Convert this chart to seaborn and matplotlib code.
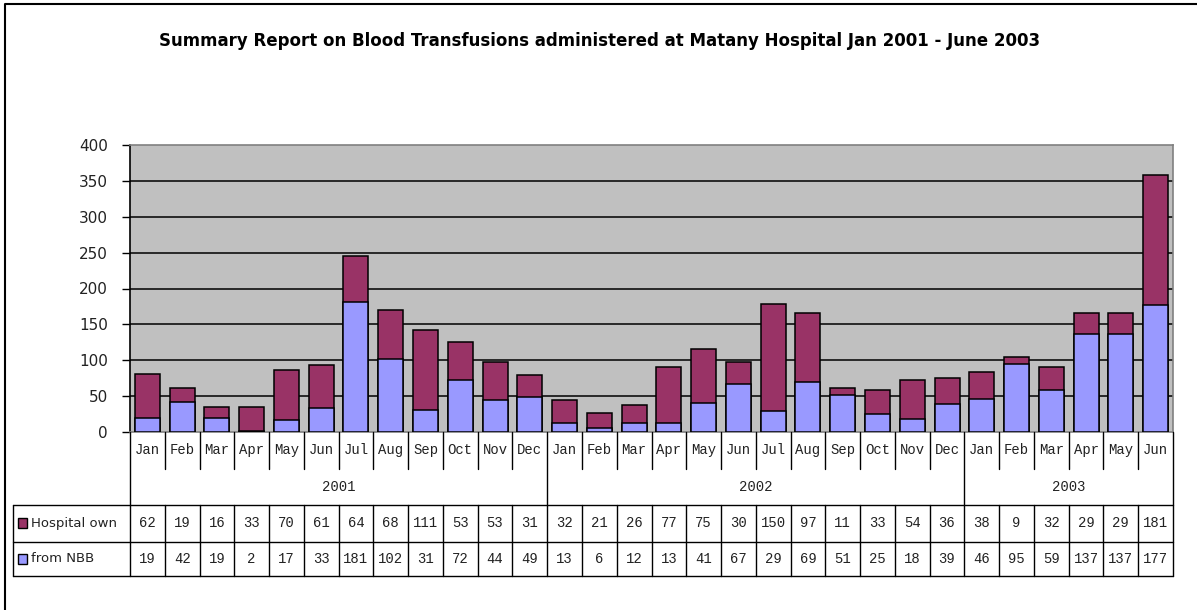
import matplotlib
matplotlib.use("Agg")
import matplotlib.pyplot as plt
import seaborn as sns
import numpy as np
import pandas as pd
from matplotlib.patches import Rectangle
from matplotlib.lines import Line2D

months = ["Jan", "Feb", "Mar", "Apr", "May", "Jun", "Jul", "Aug", "Sep", "Oct", "Nov", "Dec",
          "Jan", "Feb", "Mar", "Apr", "May", "Jun", "Jul", "Aug", "Sep", "Oct", "Nov", "Dec",
          "Jan", "Feb", "Mar", "Apr", "May", "Jun"]
years = ["2001"] * 12 + ["2002"] * 12 + ["2003"] * 6
hospital_own = [62, 19, 16, 33, 70, 61, 64, 68, 111, 53, 53, 31,
                32, 21, 26, 77, 75, 30, 150, 97, 11, 33, 54, 36,
                38, 9, 32, 29, 29, 181]
from_nbb = [19, 42, 19, 2, 17, 33, 181, 102, 31, 72, 44, 49,
            13, 6, 12, 13, 41, 67, 29, 69, 51, 25, 18, 39,
            46, 95, 59, 137, 137, 177]
series_names = ["Hospital own", "from NBB"]
title = "Summary Report on Blood Transfusions administered at Matany Hospital Jan 2001 - June 2003"
yticks = [0, 50, 100, 150, 200, 250, 300, 350, 400]

col_own = "#993366"
col_nbb = "#9999FF"

sns.set_theme(style="white")
plt.rcParams["font.family"] = ["DejaVu Sans"]

W, H = 1197, 610
fig = plt.figure(figsize=(W / 100, H / 100), dpi=100)

L, R, T, B = 130, 1173, 145, 432
ax = fig.add_axes([L / W, 1 - B / H, (R - L) / W, (B - T) / H])

df = pd.DataFrame({
    "idx": np.arange(len(months)),
    "own": hospital_own,
    "nbb": from_nbb,
})
df["total"] = df["own"] + df["nbb"]

sns.barplot(data=df, x="idx", y="total", color=col_own, saturation=1, width=0.72,
            edgecolor="black", linewidth=1.1, ax=ax, native_scale=True, zorder=3)
sns.barplot(data=df, x="idx", y="nbb", color=col_nbb, saturation=1, width=0.72,
            edgecolor="black", linewidth=1.1, ax=ax, native_scale=True, zorder=4)

ax.set_xlim(-0.5, len(months) - 0.5)
ax.set_ylim(0, 400)
ax.set_facecolor("#C0C0C0")
ax.set_yticks(yticks)
ax.set_yticklabels([str(v) for v in yticks], fontsize=11, color="#222222",
                   family=["Liberation Sans Narrow", "DejaVu Sans"])
ax.set_xticks([])
ax.set_xlabel("")
ax.set_ylabel("")
for v in yticks[1:-1]:
    ax.axhline(v, color="black", linewidth=1.1, zorder=1)
ax.tick_params(axis="y", which="both", left=True, length=6, width=1, color="black", pad=10)
for s in ["top", "right", "bottom"]:
    ax.spines[s].set_color("#808080")
    ax.spines[s].set_linewidth(1.2)
ax.spines["left"].set_color("black")
ax.spines["left"].set_linewidth(1.2)

ov2 = fig.add_axes([0, 0, 1, 1], zorder=10)
ov2.set_xlim(0, W)
ov2.set_ylim(H, 0)
ov2.axis("off")
ov2.patch.set_alpha(0)

# figure frame
ov2.add_line(Line2D([5, 5, W + 5], [H + 5, 4, 4], color="black", linewidth=1.5))

ov2.text(600, 41, title, ha="center", va="center", fontsize=12, fontweight="bold", color="black")

n = len(months)
slot = (R - L) / n
ymon_b, yyear_b, yrow1_b, yrow2_b = 469, 505, 542, 576
lc = "black"
lw = 1.0
mono = ["Liberation Mono", "DejaVu Sans Mono"]

for i, m in enumerate(months):
    xc = L + (i + 0.5) * slot
    ov2.text(xc, 450, m, ha="center", va="center", fontsize=10, family=mono, color="#222222")
    ov2.text(xc, 523, str(hospital_own[i]), ha="center", va="center", fontsize=10, family=mono, color="#222222")
    ov2.text(xc, 559, str(from_nbb[i]), ha="center", va="center", fontsize=10, family=mono, color="#222222")

for i in range(n + 1):
    xb = L + i * slot
    year_edge = (i == 0) or (i == n) or (years[i] != years[i - 1])
    if year_edge:
        ov2.add_line(Line2D([xb, xb], [B, yrow2_b], color=lc, linewidth=lw))
    else:
        ov2.add_line(Line2D([xb, xb], [B, ymon_b], color=lc, linewidth=lw))
        ov2.add_line(Line2D([xb, xb], [yyear_b, yrow2_b], color=lc, linewidth=lw))

uniq = []
for y in years:
    if y not in uniq:
        uniq.append(y)
for y in uniq:
    idxs = [i for i, v in enumerate(years) if v == y]
    xc = L + (idxs[0] + idxs[-1] + 1) / 2 * slot
    ov2.text(xc, 487, y, ha="center", va="center", fontsize=10, family=mono, color="#222222")

for yy in [yyear_b, yrow1_b, yrow2_b]:
    ov2.add_line(Line2D([13, R], [yy, yy], color=lc, linewidth=lw))
ov2.add_line(Line2D([13, 13], [yyear_b, yrow2_b], color=lc, linewidth=lw))

for (yc, name, col) in [(523, series_names[0], col_own), (559, series_names[1], col_nbb)]:
    ov2.add_patch(Rectangle((18, yc - 5), 9, 10, facecolor=col, edgecolor="black", linewidth=1))
    ov2.text(31, yc, name, ha="left", va="center", fontsize=9.5, color="#222222")

fig.savefig("out.png", dpi=100)
